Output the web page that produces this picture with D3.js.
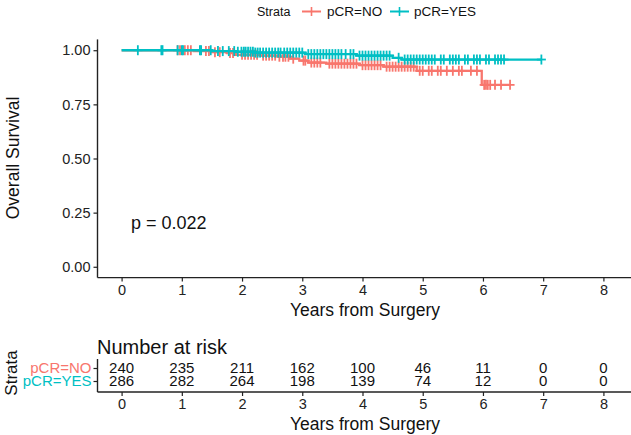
<!DOCTYPE html>
<html><head><meta charset="utf-8">
<script src="https://cdn.jsdelivr.net/npm/d3@7"></script>
<style>
body{margin:0;background:#fff;}
text{font-family:"Liberation Sans",Arial,sans-serif;}
</style></head>
<body><svg id="c" width="631" height="435"></svg>
<script>
// ---- data ----
const strata = ["pCR=NO", "pCR=YES"];
const colors = ["#F8766D", "#00BFC4"];
// KM step points [time, survival]
const stepsNO = [[0,1],[1.2,0.996],[1.5,0.991],[1.75,0.987],[1.9,0.979],[2.3,0.975],[2.6,0.970],[2.8,0.961],[2.95,0.952],[3.1,0.943],[3.4,0.938],[3.95,0.931],[4.35,0.924],[4.9,0.905],[5.98,0.84]];
const endNO = 6.45;
const stepsYES = [[0,1],[1.5,0.996],[1.9,0.993],[2.2,0.989],[3.05,0.982],[3.9,0.975],[4.5,0.965],[4.65,0.957]];
const endYES = 6.97;
const censorNO = [0.93,0.97,1.05,1.1,1.15,1.4,1.45,1.55,1.63,1.8,1.85,2.0,2.05,2.1,2.15,2.2,2.25,2.35,2.4,2.45,2.5,2.55,2.62,2.68,2.72,2.77,2.85,3.02,3.05,3.15,3.2,3.25,3.3,3.45,3.5,3.55,3.6,3.65,3.7,3.75,3.8,3.85,3.9,4.0,4.05,4.1,4.15,4.2,4.25,4.3,4.4,4.45,4.5,4.55,4.6,4.65,4.7,4.75,4.8,4.85,4.95,5.0,5.1,5.15,5.25,5.3,5.4,5.5,5.6,5.65,5.8,5.9,6.02,6.05,6.08,6.12,6.2,6.3,6.45];
const censorYES = [0.27,0.66,0.68,0.93,1.0,1.02,1.3,1.32,1.48,1.6,1.68,1.78,1.87,1.93,1.99,2.03,2.06,2.1,2.14,2.18,2.22,2.26,2.3,2.35,2.4,2.45,2.5,2.55,2.6,2.64,2.7,2.75,2.8,2.85,2.9,2.95,3.0,3.1,3.15,3.2,3.25,3.3,3.35,3.4,3.45,3.5,3.55,3.6,3.65,3.72,3.8,3.85,3.95,4.0,4.05,4.1,4.15,4.2,4.25,4.3,4.35,4.4,4.45,4.6,4.7,4.75,4.8,4.85,4.9,4.95,5.0,5.05,5.1,5.15,5.2,5.3,5.35,5.45,5.5,5.55,5.6,5.7,5.75,5.85,5.9,5.95,6.05,6.1,6.2,6.25,6.3,6.35,6.97];
const xTicks = [0,1,2,3,4,5,6,7,8];
const yTicks = [0,0.25,0.5,0.75,1];
const riskNO = [240,235,211,162,100,46,11,0,0];
const riskYES = [286,282,264,198,139,74,12,0,0];
const pText = "p = 0.022";

// ---- drawing ----
const svg = d3.select("#c");
const axisCol = "#222";
const x = d3.scaleLinear().domain([-0.4, 8.4]).range([97.5, 627.5]);
const y = d3.scaleLinear().domain([-0.05, 1.05]).range([277.6, 39.4]);

function survAt(steps, t){ let s=1; for(const [tt,v] of steps){ if(tt<=t) s=v; } return s; }

const series = [
  {steps: stepsNO, end: endNO, cens: censorNO, col: colors[0]},
  {steps: stepsYES, end: endYES, cens: censorYES, col: colors[1]}
];
const line = d3.line().curve(d3.curveStepAfter).x(d=>x(d[0])).y(d=>y(d[1]));
series.forEach(s=>{
  const pts = s.steps.concat([[s.end, s.steps[s.steps.length-1][1]]]);
  svg.append("path").attr("d", line(pts)).attr("fill","none").attr("stroke", s.col).attr("stroke-width",2.3);
  const g = svg.append("g");
  s.cens.forEach(t=>{
    const px = x(t), py = y(survAt(s.steps,t));
    g.append("line").attr("x1",px).attr("x2",px).attr("y1",py-5).attr("y2",py+5).attr("stroke",s.col).attr("stroke-width",1.8);
    g.append("line").attr("x1",px-4.5).attr("x2",px+4.5).attr("y1",py).attr("y2",py).attr("stroke",s.col).attr("stroke-width",1.8);
  });
});

// axes main
const tickFont = "14.5px";
const gx = svg.append("g").attr("transform","translate(0,277.6)")
  .call(d3.axisBottom(x).tickValues(xTicks).tickSize(4).tickPadding(3).tickFormat(d3.format("d")));
const gy = svg.append("g").attr("transform","translate(97.5,0)")
  .call(d3.axisLeft(y).tickValues(yTicks).tickSize(4).tickPadding(3).tickFormat(d3.format(".2f")));
[gx,gy].forEach(g=>{
  g.select(".domain").attr("stroke",axisCol).attr("stroke-width",1.4);
  g.selectAll(".tick line").attr("stroke",axisCol).attr("stroke-width",1.2);
  g.selectAll(".tick text").attr("fill","#222").style("font-size",tickFont).style("font-family","Liberation Sans, Arial");
});
gx.select(".domain").attr("d","M97.5,0H631");
gy.select(".domain").attr("d","M0,39.4V277.6");

svg.append("text").attr("x",365).attr("y",316).attr("text-anchor","middle").style("font-size","17.5px").attr("fill","#111").text("Years from Surgery");
svg.append("text").attr("transform","translate(19,158) rotate(-90)").attr("text-anchor","middle").style("font-size","17.5px").attr("fill","#111").text("Overall Survival");
svg.append("text").attr("x",131).attr("y",229).style("font-size","18px").attr("fill","#111").text(pText);

// legend
const lg = svg.append("g");
lg.append("text").attr("x",257).attr("y",16).style("font-size","12.5px").attr("fill","#111").text("Strata");
const legX = [[302,327],[390,414]];
strata.forEach((s,i)=>{
  const [lx,tx] = legX[i];
  lg.append("line").attr("x1",lx).attr("x2",lx+19).attr("y1",11.5).attr("y2",11.5).attr("stroke",colors[i]).attr("stroke-width",2);
  lg.append("line").attr("x1",lx+9.5).attr("x2",lx+9.5).attr("y1",7).attr("y2",16).attr("stroke",colors[i]).attr("stroke-width",1.6);
  lg.append("text").attr("x",tx).attr("y",16).style("font-size","13.5px").attr("fill","#111").text(s);
});

// risk table
svg.append("text").attr("x",97).attr("y",354).style("font-size","20px").attr("fill","#111").text("Number at risk");
const yr = d3.scalePoint().domain(strata).range([368,381]);
const risks = [riskNO, riskYES];
strata.forEach((s,i)=>{
  svg.append("g").selectAll("text").data(risks[i]).join("text")
    .attr("x",(d,j)=>x(xTicks[j])).attr("y",yr(s)).attr("dy","0.36em")
    .attr("text-anchor","middle").style("font-size","15px").attr("fill","#111").text(d=>d);
});
const ry = svg.append("g").attr("transform","translate(97.5,0)")
  .call(d3.axisLeft(yr).tickSize(4).tickPadding(2));
ry.select(".domain").attr("d","M0,359V392").attr("stroke",axisCol).attr("stroke-width",1.4);
ry.selectAll(".tick line").attr("stroke",axisCol).attr("stroke-width",1.2);
ry.selectAll(".tick text").attr("fill",(d,i)=>colors[i]).style("font-size","15px").style("font-family","Liberation Sans, Arial");
const rx = svg.append("g").attr("transform","translate(0,392)")
  .call(d3.axisBottom(x).tickValues(xTicks).tickSize(4).tickPadding(3).tickFormat(d3.format("d")));
rx.select(".domain").attr("d","M97.5,0H631").attr("stroke",axisCol).attr("stroke-width",1.4);
rx.selectAll(".tick line").attr("stroke",axisCol).attr("stroke-width",1.2);
rx.selectAll(".tick text").attr("fill","#222").style("font-size",tickFont).style("font-family","Liberation Sans, Arial");
svg.append("text").attr("x",365).attr("y",430).attr("text-anchor","middle").style("font-size","17.5px").attr("fill","#111").text("Years from Surgery");
svg.append("text").attr("transform","translate(17,373) rotate(-90)").attr("text-anchor","middle").style("font-size","17px").attr("fill","#111").text("Strata");
</script></body></html>
